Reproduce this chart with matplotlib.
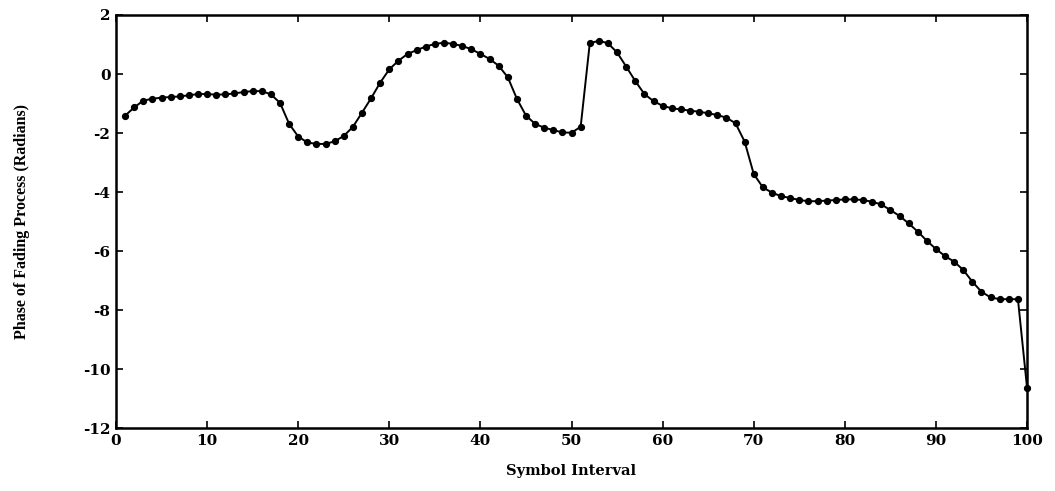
import matplotlib
matplotlib.use('Agg')
import matplotlib.pyplot as plt

plt.rcParams['axes.unicode_minus'] = False

# symbol index 1..100
symbol = list(range(1, 101))
phase = [
    -1.41, -1.13, -0.90, -0.84, -0.80, -0.78, -0.76, -0.72, -0.68, -0.68,
    -0.70, -0.69, -0.66, -0.61, -0.58, -0.58, -0.69, -0.98, -1.69, -2.12,
    -2.32, -2.37, -2.37, -2.28, -2.10, -1.79, -1.31, -0.82, -0.29, 0.16,
    0.45, 0.68, 0.81, 0.93, 1.02, 1.06, 1.02, 0.95, 0.84, 0.68,
    0.51, 0.28, -0.11, -0.84, -1.41, -1.69, -1.82, -1.90, -1.98, -1.99,
    -1.79, 1.04, 1.13, 1.04, 0.73, 0.25, -0.24, -0.68, -0.92, -1.08,
    -1.16, -1.20, -1.24, -1.28, -1.33, -1.39, -1.48, -1.67, -2.29, -3.39,
    -3.84, -4.02, -4.14, -4.20, -4.27, -4.31, -4.31, -4.29, -4.27, -4.25,
    -4.25, -4.27, -4.33, -4.42, -4.61, -4.81, -5.06, -5.34, -5.65, -5.93,
    -6.17, -6.36, -6.64, -7.04, -7.38, -7.57, -7.63, -7.63, -7.63, -10.63,
]
xticks = list(range(0, 101, 10))
yticks = list(range(-12, 3, 2))

fig = plt.figure(figsize=(10.55, 4.91), dpi=100)
ax = fig.add_axes([0.110, 0.128, 0.8635, 0.8415])

ax.plot(symbol, phase, color='black', linewidth=1.4, marker='o',
        markersize=4.2, markerfacecolor='black', markeredgecolor='black',
        clip_on=False, zorder=3)

ax.set_xlim(0, 100)
ax.set_ylim(-12, 2)
ax.set_xticks(xticks)
ax.set_yticks(yticks)
ax.tick_params(direction='in', length=5, width=1.2, top=True, right=True,
               labelsize=11, pad=4)
for lab in ax.get_xticklabels() + ax.get_yticklabels():
    lab.set_fontfamily('DejaVu Serif')
    lab.set_fontweight('bold')
for s in ax.spines.values():
    s.set_linewidth(1.8)

ax.set_xlabel('Symbol Interval', fontfamily='DejaVu Serif', fontweight='bold',
              fontsize=10.5, labelpad=12)
ax.set_ylabel('Phase of Fading Process (Radians)', fontfamily='Liberation Serif',
              fontweight='bold', fontsize=11.5, labelpad=38)

fig.savefig('out.png', dpi=100)
plt.close(fig)
